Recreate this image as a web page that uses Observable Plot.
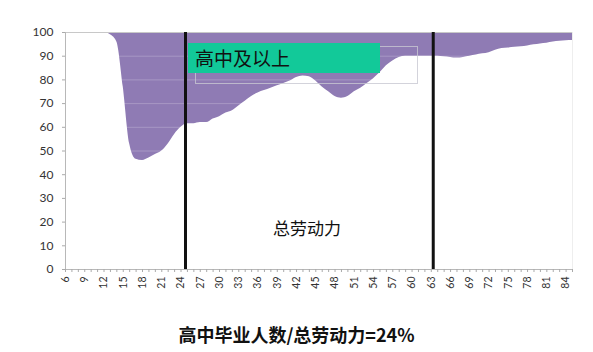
<!DOCTYPE html>
<html>
<head>
<meta charset="utf-8">
<script src="https://cdn.jsdelivr.net/npm/d3@7"></script>
<script src="https://cdn.jsdelivr.net/npm/@observablehq/plot@0.6"></script>
<style>
  html, body { margin: 0; padding: 0; background: #fff; }
  #wrap { position: relative; width: 593px; height: 352px; overflow: hidden; font-family: "Noto Sans CJK SC", "Noto Sans", sans-serif; }
  #legendOutline { position: absolute; left: 195px; top: 46px; width: 221px; height: 36px; border: 1px solid rgba(200,200,210,0.8); }
  #legend { position: absolute; left: 188px; top: 43px; width: 192px; height: 30px; background: #12c999; }
  #legend span { position: absolute; left: 7px; top: 0; line-height: 30px; font-size: 19px; color: #111; }
  #areaLabel { position: absolute; left: 273px; top: 216px; font-size: 17px; line-height: 24px; color: #111; }
  #caption { text-align: center; font-size: 18px; font-weight: bold; line-height: 24px; padding-top: 10px; color: #111; }
</style>
</head>
<body>
<div id="wrap">
  <div id="chart"></div>
  <div id="caption"></div>
  <div id="legendOutline"></div>
  <div id="legend"><span></span></div>
  <div id="areaLabel"></div>
</div>
<script>
// Ages (x) and share (%) of the labour force with senior high school or above
const ages = d3.range(6, 86);
const shares = [
  100, 100, 100, 100, 100, 100, 100,        // 6-12
  99, 96, 77, 53, 46.5, 46, 47, 48.5, 50,   // 13-21
  53, 57, 60, 61.5, 61.5, 62, 62, 63.5, 64.5, // 22-30
  66, 67, 69, 71, 73, 74.5, 75.5, 76.5, 77.5, 78.5, // 31-40
  79.5, 81, 81.6, 81.3, 79.5, 77, 75, 73, 72.3, 73, // 41-50
  75, 76.5, 78.5, 80.5, 83, 86, 88, 89.5, 90, 90,   // 51-60
  90, 90, 90, 90, 89.8, 89.5, 89.2, 89.5, 90, 90.5, // 61-70
  91, 91.5, 92.5, 93.2, 93.5, 93.8, 94, 94.3, 94.8, 95.2, // 71-80
  95.5, 96, 96.3, 96.5, 96.6                 // 81-85
];
const xTickLabels = d3.range(6, 85, 3);
const yTickLabels = d3.range(0, 101, 10);
const markerAges = [24.7, 63.3];
const legendText = "高中及以上";
const areaText = "总劳动力";
const captionText = "高中毕业人数/总劳动力=24%";

const data = ages.map((a, i) => ({age: a, v: shares[i]}));

const chart = Plot.plot({
  width: 593,
  height: 312,
  marginLeft: 65,
  marginRight: 21,
  marginTop: 32,
  marginBottom: 43,
  style: {fontFamily: "Lato, 'Liberation Sans', sans-serif", color: "#333", background: "#fff"},
  x: {domain: [6, 85]},
  y: {domain: [0, 100]},
  marks: [
    Plot.areaY(data, {x: "age", y1: "v", y2: 100, fill: "#8f7bb4", curve: "monotone-x"}),
    Plot.ruleY(yTickLabels.slice(1, -1), {stroke: "#fff", strokeOpacity: 0.22}),
    Plot.ruleY([100], {stroke: "#c8c8c8"}),
    Plot.ruleY([0], {stroke: "#b8b8b8"}),
    Plot.ruleX([6], {stroke: "#b8b8b8"}),
    Plot.ruleX([85], {stroke: "#eeeeee"}),
    Plot.axisY({ticks: yTickLabels, tickSize: 3, tickPadding: 9, fontSize: 12, stroke: "#aaa", label: null}),
    Plot.axisX({ticks: ages, tickSize: 3, tickFormat: () => "", stroke: "#aaa", label: null}),
    Plot.axisX({ticks: xTickLabels, tickSize: 0, tickPadding: 7, tickRotate: -90, fontSize: 10.5, label: null}),
    Plot.ruleX(markerAges, {y1: 0, y2: 100, stroke: "#111", strokeWidth: 3})
  ]
});
document.getElementById("chart").append(chart);
document.querySelector("#legend span").textContent = legendText;
document.getElementById("areaLabel").textContent = areaText;
document.getElementById("caption").textContent = captionText;
</script>
</body>
</html>
